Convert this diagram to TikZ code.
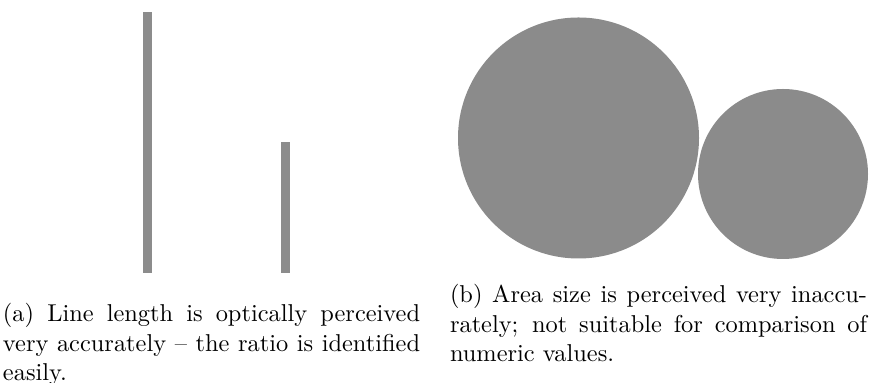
\documentclass[tikz,border=0pt]{standalone}
\definecolor{bargray}{RGB}{140,140,140}
\definecolor{diskgray}{RGB}{139,139,139}
\begin{document}
\begin{tikzpicture}[x=0.41pt,y=-0.41pt,
  caption/.style={inner sep=0pt, outer sep=0pt, text width=171pt, align=justify, anchor=base west, font=\fontsize{10}{12}\selectfont}]
\useasboundingbox (0,0) rectangle (871,383);
% bars
\fill[bargray] (143,12) rectangle (152,273);
\fill[bargray] (281,142) rectangle (289.5,273);
% disks
\fill[diskgray] (578.5,138) circle[radius=120.5];
\fill[diskgray] (783,174) circle[radius=85];
% captions
\node[caption] (capa) at (3,322) {(a) Line length is optically perceived very accurately -- the ratio is identified easily.};
\node[caption] (capb) at (450,303) {(b) Area size is perceived very inaccu-\linebreak rately; not suitable for comparison of numeric values.};
\end{tikzpicture}
\end{document}
